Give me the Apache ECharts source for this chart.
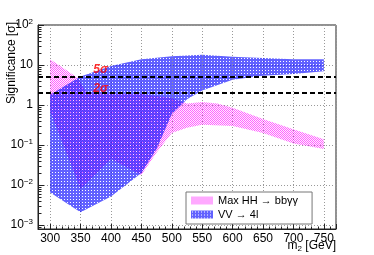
<!DOCTYPE html>
<html><head><meta charset="utf-8">
<script src="https://cdn.jsdelivr.net/npm/echarts@6/dist/echarts.min.js"></script>
<style>html,body{margin:0;padding:0;background:#fff}#c{width:374px;height:255px}</style>
</head><body><div id="c"></div>
<script>
// ---- data ----
const pinkUpMass  = [300, 345, 360, 400, 450, 500, 525, 550, 575, 600, 650, 700, 750];
const pinkUp      = [14, 4.8, 2.0, 1.85, 1.9, 1.5, 1.1, 1.2, 1.1, 0.85, 0.45, 0.25, 0.14];
const pinkLowMass = [300, 350, 400, 450, 475, 500, 525, 550, 600, 650, 700, 750];
const pinkLow     = [0.7, 0.008, 0.045, 0.018, 0.065, 0.2, 0.27, 0.32, 0.3, 0.2, 0.11, 0.08];
const blueUpMass  = [300, 350, 400, 450, 500, 550, 600, 650, 700, 750];
const blueUp      = [1.8, 5.2, 9.5, 14, 16.5, 18, 16, 15, 14, 14];
const blueLowMass = [300, 350, 400, 450, 475, 500, 525, 550, 600, 650, 700, 750];
const blueLow     = [0.0065, 0.0021, 0.0052, 0.02, 0.08, 0.6, 1.4, 2.3, 4.3, 5.4, 6.0, 7.0];
const sigmaLevels = [5, 2];
const sigmaLabels = ['5σ', '2σ'];
const sigmaLabelPos = [[383, 7.6], [383, 2.55]];
const seriesNames = ['Max HH → bbγγ', 'VV → 4l'];

const FONT = 'Liberation Sans, Arial, Helvetica, sans-serif';

function makePattern(w, h, fn) {
  const c = document.createElement('canvas');
  c.width = w; c.height = h;
  fn(c.getContext('2d'));
  return c;
}
const pinkCanvas = makePattern(2, 2, ctx => {
  ctx.fillStyle = 'rgba(255,0,255,0.6)';
  ctx.fillRect(0, 0, 1, 1);
  ctx.fillRect(1, 1, 1, 1);
  ctx.fillStyle = 'rgba(255,0,255,0.08)';
  ctx.fillRect(1, 0, 1, 1);
  ctx.fillRect(0, 1, 1, 1);
});
const blueCanvas = makePattern(3, 3, ctx => {
  ctx.fillStyle = 'rgba(0,0,255,0.62)';
  ctx.fillRect(0, 0, 3, 3);
  ctx.clearRect(1, 1, 1, 1);
});
const pinkFill = { image: pinkCanvas, repetition: 'repeat' };
const blueFill = { image: blueCanvas, repetition: 'repeat' };

function bandSeries(name, upM, up, lowM, low, fill) {
  return {
    type: 'custom', name: name, clip: true,
    itemStyle: { color: fill },
    data: [0],
    z: 2,
    renderItem: function (params, api) {
      const pts = [];
      for (let i = 0; i < upM.length; i++) pts.push(api.coord([upM[i], up[i]]));
      for (let i = lowM.length - 1; i >= 0; i--) pts.push(api.coord([lowM[i], low[i]]));
      return { type: 'polygon', shape: { points: pts }, style: { fill: fill, stroke: null } };
    }
  };
}

const supMap = v => {
  const e = Math.round(Math.log10(v));
  if (e === 0) return '1';
  if (e === 1) return '10';
  return '10{sup|' + (e < 0 ? '−' + (-e) : e) + '}';
};

const chart = echarts.init(document.getElementById('c'), null, { renderer: 'canvas' });
chart.setOption({
  animation: false,
  backgroundColor: '#fff',
  textStyle: { fontFamily: FONT },
  grid: { left: 38, right: 38, top: 25, bottom: 26, show: true, borderColor: '#222', borderWidth: 1, backgroundColor: 'transparent' },
  xAxis: {
    type: 'value', min: 280, max: 770, splitNumber: 10,
    axisLine: { show: true, lineStyle: { color: '#222' } },
    axisTick: { show: true, inside: true, length: 5, lineStyle: { color: '#222' } },
    minorTick: { show: true, splitNumber: 5, length: 2.5, lineStyle: { color: '#222' } },
    axisLabel: { showMinLabel: false, showMaxLabel: false, fontSize: 12, color: '#000', margin: 4, fontFamily: FONT },
    splitLine: { show: true, lineStyle: { color: '#999', type: [1, 2], width: 1 } }
  },
  yAxis: {
    type: 'log', logBase: 10, min: 0.0008, max: 100,
    axisLine: { show: true, lineStyle: { color: '#222' } },
    axisTick: { show: true, inside: true, length: 6, lineStyle: { color: '#222' } },
    minorTick: { show: true, splitNumber: 9, length: 3.5, lineStyle: { color: '#222' } },
    axisLabel: {
      showMinLabel: false, fontSize: 12, color: '#000', margin: 5, fontFamily: FONT,
      formatter: supMap,
      rich: { sup: { fontSize: 8, color: '#000', padding: [0, 0, 7, 0], fontFamily: FONT } }
    },
    splitLine: { show: true, lineStyle: { color: '#999', type: [1, 2], width: 1 } }
  },
  legend: {
    orient: 'vertical', left: 186, top: 192,
    data: seriesNames,
    itemWidth: 22, itemHeight: 8, itemGap: 3,
    padding: [3, 14, 4, 5],
    borderColor: '#777', borderWidth: 1, backgroundColor: '#fff',
    textStyle: { fontSize: 11, color: '#000', fontFamily: FONT },
    icon: 'rect'
  },
  series: [
    bandSeries(seriesNames[0], pinkUpMass, pinkUp, pinkLowMass, pinkLow, pinkFill),
    bandSeries(seriesNames[1], blueUpMass, blueUp, blueLowMass, blueLow, blueFill),
    {
      type: 'scatter', name: 'sigma', symbolSize: 0, silent: true,
      data: sigmaLabelPos.map((p, i) => ({ value: p, label: { formatter: sigmaLabels[i] } })),
      label: { show: true, position: 'inside', color: '#ff0000', fontSize: 12, fontStyle: 'italic', fontWeight: 'bold', fontFamily: FONT },
      markLine: {
        silent: true, symbol: ['none', 'none'], animation: false,
        label: { show: false },
        lineStyle: { color: '#000', type: [5, 3], width: 2 },
        data: sigmaLevels.map(v => ({ yAxis: v }))
      },
      z: 10
    }
  ],
  graphic: [
    { type: 'text', x: 12, y: 63, rotation: Math.PI / 2,
      style: { text: 'Significance [σ]', font: '12px ' + FONT, fill: '#000', align: 'center', verticalAlign: 'middle' } },
    { type: 'text', x: 336, y: 246,
      style: { text: 'm{sub|2} [GeV]', font: '12px ' + FONT, fill: '#000', align: 'right', verticalAlign: 'middle',
        rich: { sub: { fontSize: 8, padding: [6, 0, 0, 0], fontFamily: FONT } } } }
  ]
});
</script></body></html>
